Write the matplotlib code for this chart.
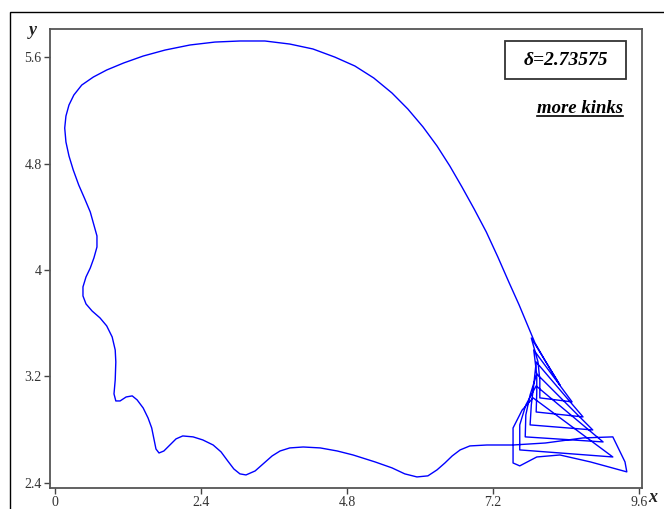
#!/usr/bin/env python3

import matplotlib
matplotlib.use("Agg")
import matplotlib.pyplot as plt
from matplotlib.patches import Rectangle
from matplotlib.lines import Line2D

# Trajectory (x, y), one closed orbit.
# bottom wiggles (right to left), left side, big arc, then the cusp loops
x = [7.53, 7.32, 7.10, 6.82, 6.66, 6.53, 6.41, 6.28, 6.13, 5.95, 5.75, 5.54,
     5.26, 4.90, 4.64, 4.36, 4.08, 3.86, 3.70, 3.57, 3.42, 3.29, 3.14, 3.04,
     2.94, 2.84, 2.73, 2.60, 2.43, 2.27, 2.10, 1.99, 1.89, 1.79, 1.71, 1.66,
     1.63, 1.59, 1.53, 1.45, 1.35, 1.27, 1.17, 1.07, 1.00, 0.97, 0.99, 1.00,
     0.99, 0.94, 0.85, 0.74, 0.61, 0.51, 0.46, 0.46, 0.51, 0.58, 0.64, 0.69,
     0.69, 0.64, 0.58, 0.49, 0.39, 0.30, 0.23, 0.18, 0.16, 0.18, 0.23, 0.31,
     0.44, 0.63, 0.85, 1.13, 1.45, 1.81, 2.22, 2.63, 3.04, 3.45, 3.86, 4.24,
     4.60, 4.93, 5.24, 5.54, 5.80, 6.05, 6.28, 6.49, 6.69, 6.89, 7.09, 7.28,
     7.46, 7.63, 7.78,
     7.89, 8.07, 8.30,
     7.83, 7.94, 7.97, 7.97, 8.50,
     7.87, 7.92, 7.92, 7.91, 8.68,
     7.91, 7.87, 7.83, 7.81, 8.84,
     7.92, 7.81, 7.74, 7.73, 9.01,
     7.91, 7.74, 7.64, 7.64, 9.17,
     7.86, 7.68, 7.53, 7.53, 7.64, 7.92, 8.30, 8.80, 9.40, 9.37, 9.17, 8.68,
     8.06, 7.53]
y = [2.685, 2.685, 2.685, 2.678, 2.648, 2.603, 2.550, 2.498, 2.453, 2.445, 2.468, 2.513,
     2.558, 2.610, 2.640, 2.663, 2.670, 2.663, 2.640, 2.603, 2.543, 2.490, 2.460, 2.468,
     2.505, 2.565, 2.633, 2.685, 2.723, 2.746, 2.753, 2.731, 2.686, 2.640, 2.625, 2.655,
     2.723, 2.813, 2.888, 2.963, 3.024, 3.054, 3.046, 3.016, 3.016, 3.069, 3.174, 3.309,
     3.399, 3.497, 3.580, 3.640, 3.692, 3.745, 3.805, 3.873, 3.948, 4.015, 4.091, 4.173,
     4.256, 4.338, 4.436, 4.534, 4.639, 4.752, 4.857, 4.962, 5.067, 5.157, 5.240, 5.315,
     5.390, 5.450, 5.503, 5.556, 5.608, 5.653, 5.691, 5.713, 5.721, 5.721, 5.698, 5.661,
     5.600, 5.533, 5.443, 5.330, 5.210, 5.075, 4.932, 4.782, 4.624, 4.459, 4.286, 4.098,
     3.910, 3.737, 3.572,
     3.452, 3.309, 3.136,
     3.489, 3.309, 3.174, 3.039, 3.009,
     3.399, 3.211, 3.084, 2.933, 2.896,
     3.309, 3.136, 2.986, 2.836, 2.798,
     3.219, 3.061, 2.911, 2.746, 2.708,
     3.129, 2.986, 2.836, 2.648, 2.595,
     3.039, 2.948, 2.813, 2.550, 2.528, 2.595, 2.610, 2.558, 2.483, 2.558, 2.746, 2.738,
     2.700, 2.685]

xticks = [0, 2.4, 4.8, 7.2, 9.6]
xtick_labels = ["0", "2.4", "4.8", "7.2", "9.6"]
yticks = [2.4, 3.2, 4, 4.8, 5.6]
ytick_labels = ["2.4", "3.2", "4", "4.8", "5.6"]
delta_label = "δ=2.73575"
note = "more kinks"

serif = ["Liberation Serif", "DejaVu Serif"]
plt.rcParams["font.family"] = serif

fig = plt.figure(figsize=(6.64, 5.09), dpi=100)
ax = fig.add_axes([0.0753, 0.0413, 0.8916, 0.9017])

ax.plot(x, y, color="#0000ff", lw=1.0)

ax.set_xlim(-0.082, 9.65)
ax.set_ylim(2.362, 5.811)
ax.set_xticks(xticks, xtick_labels)
ax.set_yticks(yticks, ytick_labels)
ax.tick_params(direction="out", length=4, width=1.0, color="#444444",
               labelsize=10, labelcolor="#333333", pad=2,
               top=False, right=False)
for s in ax.spines.values():
    s.set_color("#555555")
    s.set_linewidth(1.3)

# outer frame
fig.patches.append(Rectangle((0.015, -0.2), 1.2, 1.176, transform=fig.transFigure,
                             fill=False, edgecolor="black", lw=1.0))

# axis names
fig.text(0.0497, 0.941, "y", fontsize=13, fontweight="bold", style="italic",
         ha="center", va="center", color="#222222")
fig.text(0.983, 0.022, "x", fontsize=13, fontweight="bold", style="italic",
         ha="center", va="center", color="#222222")

# parameter box
ax.add_patch(Rectangle((0.7686, 0.891), 0.2044, 0.083, transform=ax.transAxes,
                       fill=False, edgecolor="#333333", lw=1.3))
ax.text(0.871, 0.932, delta_label, transform=ax.transAxes, fontsize=14,
        fontweight="bold", style="italic", ha="center", va="center")

t = ax.text(0.968, 0.818, note, transform=ax.transAxes, fontsize=13.5,
            fontweight="bold", style="italic", ha="right", va="baseline")
fig.canvas.draw()
bb = t.get_window_extent().transformed(fig.transFigure.inverted())
uy = bb.y0 + 0.001
fig.lines.append(Line2D([bb.x0, bb.x1], [uy, uy], transform=fig.transFigure,
                        color="black", lw=1.2))

fig.savefig("out.png", dpi=100)
